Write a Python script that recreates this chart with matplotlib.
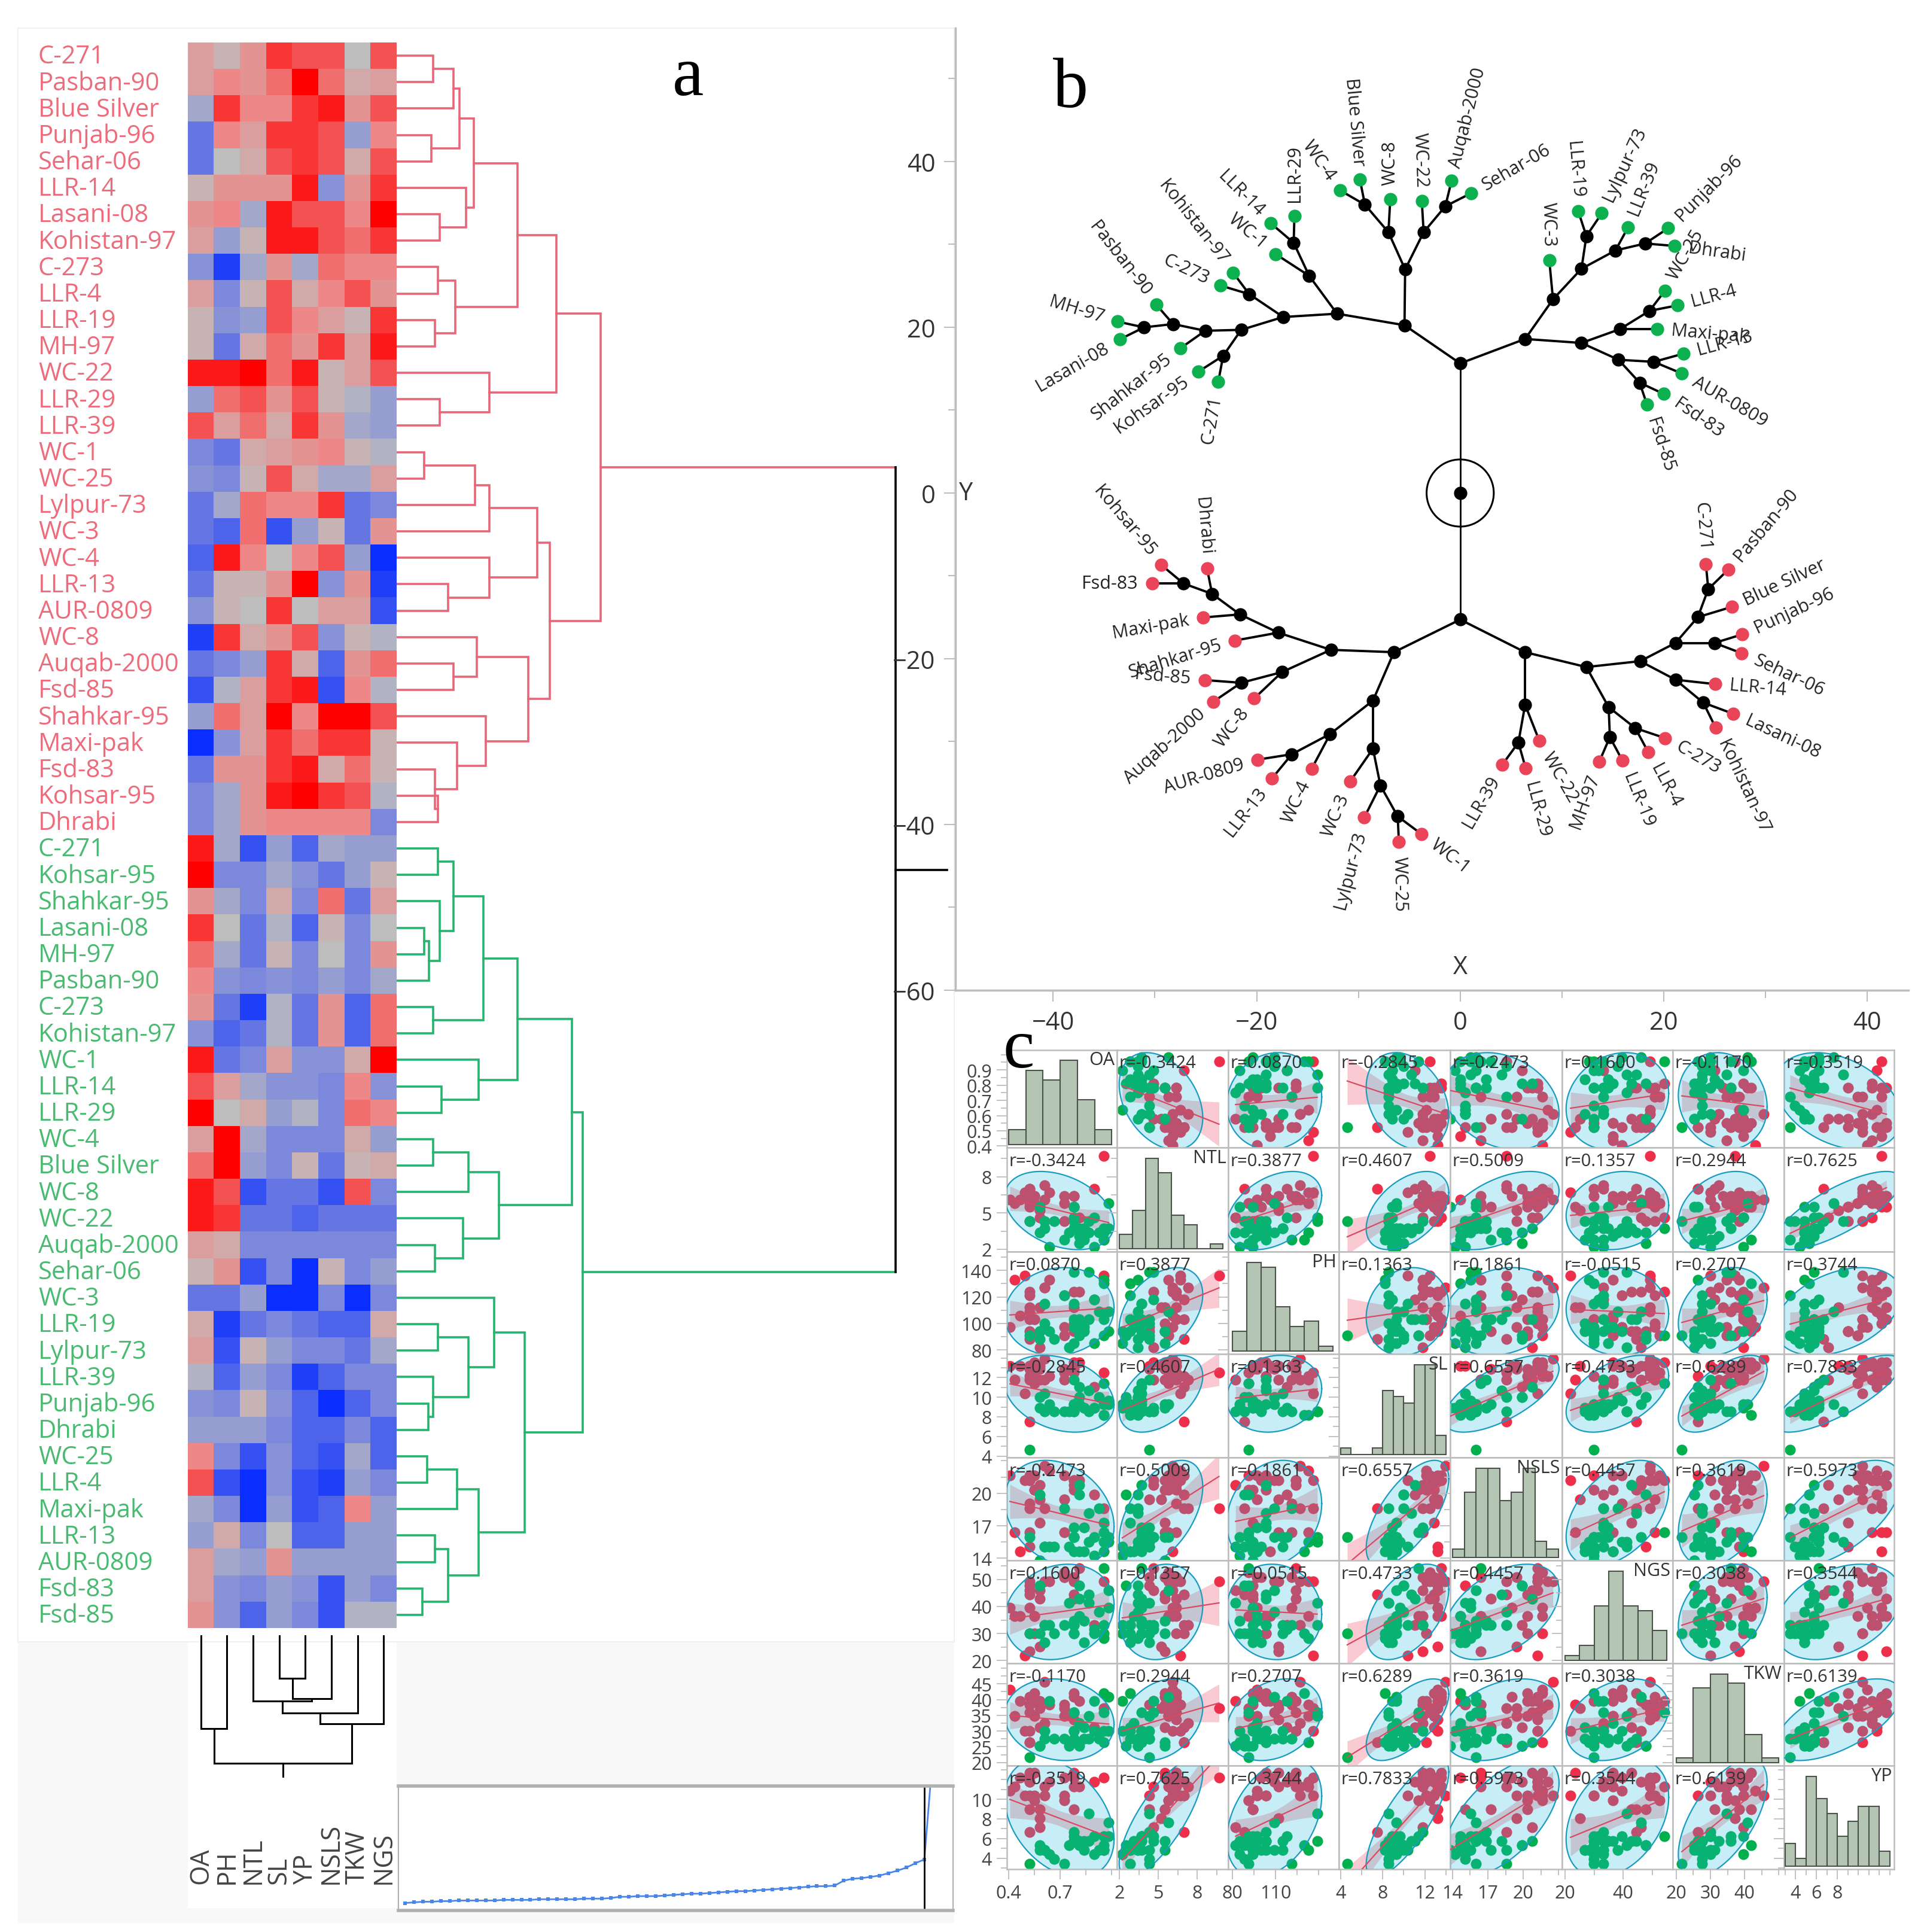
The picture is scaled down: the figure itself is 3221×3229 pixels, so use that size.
import numpy as np
import matplotlib
matplotlib.use("Agg")
import matplotlib.pyplot as plt
from matplotlib.colors import LinearSegmentedColormap
from matplotlib.patches import Ellipse, Rectangle
from matplotlib.ticker import FixedLocator, AutoMinorLocator, NullLocator

plt.rcParams["font.family"] = ["Open Sans", "DejaVu Sans"]

W, H = 3221, 3230

# --- panel a: heat map, cells are standardised scores ---
HEAT_COLS = ["OA", "PH", "NTL", "SL", "YP", "NSLS", "TKW", "NGS"]

RED_NAMES = ["C-271", "Pasban-90", "Blue Silver", "Punjab-96", "Sehar-06", "LLR-14", "Lasani-08",
             "Kohistan-97", "C-273", "LLR-4", "LLR-19", "MH-97", "WC-22", "LLR-29", "LLR-39", "WC-1",
             "WC-25", "Lylpur-73", "WC-3", "WC-4", "LLR-13", "AUR-0809", "WC-8", "Auqab-2000", "Fsd-85",
             "Shahkar-95", "Maxi-pak", "Fsd-83", "Kohsar-95", "Dhrabi"]
RED_SCORES = [
    [3, 1, 4, 8, 7, 7, 0, 7],
    [3, 5, 4, 6, 10, 6, 2, 3],
    [-2, 8, 5, 5, 8, 9, 4, 7],
    [-6, 5, 3, 8, 8, 7, -3, 5],
    [-6, 0, 2, 7, 8, 7, 2, 7],
    [1, 4, 4, 4, 9, -4, 4, 8],
    [4, 5, -2, 9, 7, 7, 5, 10],
    [3, -3, 1, 9, 9, 7, 6, 8],
    [-4, -9, -2, 4, -2, 6, 5, 5],
    [3, -5, 1, 7, 2, 5, 7, 4],
    [1, -4, -3, 7, 5, 3, 1, 8],
    [1, -6, 2, 6, 4, 8, 3, 9],
    [9, 9, 15, 6, 9, 1, 3, 7],
    [-3, 6, 7, 4, 7, 1, -1, -3],
    [7, 3, 6, 2, 8, 4, -2, -3],
    [-5, -6, 2, 3, 4, 5, 1, -1],
    [-4, -5, 1, 7, 2, -2, -2, 3],
    [-6, -2, 6, 5, 5, 8, -6, -5],
    [-6, -7, 6, -8, -3, 1, -6, 4],
    [-7, 9, 5, 0, 5, 7, -3, -10],
    [-6, 1, 1, 4, 10, -4, 4, -9],
    [-4, 1, 0, 8, 0, 3, 3, -8],
    [-9, 8, 2, 4, 7, -4, 1, -1],
    [-6, -5, -3, 8, 2, -7, 4, 6],
    [-8, -1, 3, 8, 9, -8, 5, -1],
    [-3, 6, 3, 10, 5, 10, 10, 7],
    [-10, -4, 3, 8, 6, 8, 8, 1],
    [-6, 4, 4, 8, 9, 2, 6, 1],
    [-5, -2, 4, 9, 10, 8, 7, -1],
    [-5, -2, 4, 5, 5, 5, 5, -5],
]

GREEN_NAMES = ["C-271", "Kohsar-95", "Shahkar-95", "Lasani-08", "MH-97", "Pasban-90", "C-273", "Kohistan-97",
               "WC-1", "LLR-14", "LLR-29", "WC-4", "Blue Silver", "WC-8", "WC-22", "Auqab-2000", "Sehar-06",
               "WC-3", "LLR-19", "Lylpur-73", "LLR-39", "Punjab-96", "Dhrabi", "WC-25", "LLR-4", "Maxi-pak",
               "LLR-13", "AUR-0809", "Fsd-83", "Fsd-85"]
GREEN_SCORES = [
    [9, -2, -8, -3, -7, -2, -3, -3],
    [10, -5, -5, -2, -4, -6, -3, 1],
    [4, -2, -5, 2, -5, 6, -6, 3],
    [8, 0, -6, -1, -7, 1, -5, 0],
    [6, -2, -6, 1, -5, 0, -5, 4],
    [5, -4, -5, -4, -5, -3, -5, -2],
    [4, -6, -9, -1, -6, 4, -7, 6],
    [-4, -7, -6, -1, -6, 4, -7, 6],
    [9, -6, -5, 3, -4, -4, 2, 10],
    [7, 3, -2, -4, -4, -5, 5, -4],
    [10, 0, 2, -3, -1, -5, 6, 5],
    [3, 10, -2, -5, -5, -5, 2, -3],
    [6, 10, -3, -5, 1, -6, 1, 2],
    [9, 7, -8, -6, -6, -8, 7, -5],
    [9, 8, -6, -6, -7, -6, -6, -6],
    [3, 2, -5, -5, -5, -5, -5, -5],
    [1, 4, -8, -5, -10, 1, -5, -3],
    [-6, -6, -3, -16, -10, -5, -10, -5],
    [2, -9, -6, -5, -6, -7, -7, 2],
    [3, -8, 1, -3, -5, -5, -6, -2],
    [-1, -7, -3, -5, -9, -7, -5, -5],
    [-4, -5, 1, -4, -7, -10, -7, -5],
    [-3, -3, -3, -5, -7, -7, -5, -7],
    [5, -5, -8, -4, -7, -8, -2, -7],
    [7, -8, -10, -4, -8, -9, -3, -5],
    [-2, -5, -10, -3, -8, -7, 5, -3],
    [-3, 2, -5, 0, -7, -7, -3, -3],
    [3, -2, -3, 4, -3, -3, -3, -3],
    [3, -4, -5, -3, -4, -8, -3, -5],
    [4, -4, -7, -3, -5, -8, -1, -1],
]

# dendrograms: (merge position, child, child), ints are leaves
RED_TREE = (1004,
            (930, (865, (792, (768, (758, (724, 0, 1), 2), (721, 3, 4)), (779, 5, (735, 6, 7))),
                   (761, (732, 8, 9), (727, 10, 11))),
             (818, 12, (735, 13, 14))),
            (919, (898, (818, (794, (709, 15, 16), 17), 18), (818, 19, (749, 20, 21))),
             (883, (797, 22, (758, 23, 24)), (812, 25, (764, 26, (727, 27, (732, 28, 29)))))))
GREEN_TREE = (974,
              (956, (865, (808, (758, (732, 30, 31), (735, 32, (717, (709, 33, 34), 35))), (724, 36, 37)),
                     (800, 38, (738, 39, 40))),
               (834, (783, (724, 41, 42), 43), (774, 44, (727, 45, 46)))),
              (877, (826, 47, (783, (732, 48, 49), (724, 50, (716, 51, 52)))),
               (800, (764, (714, 53, 54), 55), (749, (727, 56, 57), (706, 58, 59)))))
COL_TREE = (2948, (2890, 0, 1), (2882, (2864, (2844, 2, (2840, (2806, 3, 4), 5)), 6), 7))

SCREE = [0.06, 0.065, 0.07, 0.07, 0.075, 0.075, 0.08, 0.08, 0.08, 0.08, 0.08, 0.085, 0.085, 0.085, 0.085,
         0.09, 0.09, 0.09, 0.09, 0.09, 0.095, 0.095, 0.095, 0.10, 0.11, 0.11, 0.115, 0.115, 0.115, 0.12,
         0.125, 0.13, 0.135, 0.135, 0.14, 0.145, 0.15, 0.155, 0.155, 0.16, 0.165, 0.17, 0.175, 0.18, 0.185,
         0.19, 0.195, 0.195, 0.20, 0.24, 0.255, 0.26, 0.27, 0.28, 0.30, 0.32, 0.345, 0.38, 0.41, 1.3]

# --- panel b: constellation plot, inner nodes and leaves (label, x, y, parent, label angle) ---
UP_NODES = {"U": (0, 15.64, "root"), "L1": (-5.47, 20.25, "U"), "T": (-5.41, 26.98, "L1"),
            "A": (-7.05, 31.47, "T"), "B": (-3.59, 31.47, "T"), "A1": (-9.36, 34.79, "A"),
            "B1": (-1.46, 34.60, "B"), "L2": (-12.1, 21.64, "L1"), "L3": (-14.84, 26.21, "L2"),
            "L4": (-16.36, 30.19, "L3"), "L5": (-17.39, 21.24, "L2"), "L6": (-20.73, 24.0, "L5"),
            "L7": (-21.52, 19.69, "L5"), "L8": (-25.05, 19.58, "L7"), "L9": (-23.29, 16.56, "L7"),
            "L10": (-28.21, 20.39, "L8"), "L11": (-31.07, 19.99, "L10"), "R1": (6.38, 18.59, "U"),
            "R2": (9.12, 23.37, "R1"), "R3": (11.92, 27.06, "R2"), "R4": (12.4, 31.0, "R3"),
            "R5": (15.26, 29.27, "R3"), "R6": (18.18, 30.11, "R5"), "R7": (11.92, 18.11, "R1"),
            "R8": (15.69, 19.77, "R7"), "R9": (15.56, 16.08, "R7"), "R10": (18.6, 21.98, "R8"),
            "R11": (19.03, 15.83, "R9"), "R12": (17.63, 13.32, "R9")}
UP_LEAVES = [("WC-8", -6.87, 35.45, "A", 90), ("WC-4", -11.8, 36.52, "A1", 125), ("Blue Silver", -9.85, 37.81, "A1", 95),
             ("WC-22", -3.77, 35.23, "B", 92), ("Auqab-2000", -0.85, 37.66, "B1", 76), ("Sehar-06", 1.09, 36.19, "B1", 30),
             ("WC-1", -18.12, 28.82, "L3", 140), ("LLR-14", -18.6, 32.54, "L4", 135), ("LLR-29", -16.29, 33.43, "L4", 90),
             ("C-273", -23.53, 25.03, "L6", 155), ("Kohistan-97", -22.31, 26.58, "L6", 128),
             ("Kohsar-95", -25.72, 14.65, "L9", 215), ("C-271", -23.77, 13.43, "L9", 260),
             ("Shahkar-95", -27.48, 17.48, "L8", 218), ("Pasban-90", -29.85, 22.71, "L10", 128),
             ("MH-97", -33.68, 20.69, "L11", 163), ("Lasani-08", -33.44, 18.55, "L11", 210),
             ("WC-3", 8.76, 28.05, "R2", 91), ("LLR-19", 11.61, 33.98, "R4", 95), ("Lylpur-73", 13.92, 33.76, "R4", 65),
             ("LLR-39", 16.48, 32.03, "R5", 68), ("Punjab-96", 20.43, 31.95, "R6", 45), ("Dhrabi", 21.04, 29.82, "R6", -8),
             ("Maxi-pak", 19.33, 19.77, "R8", -5), ("WC-25", 20.12, 24.41, "R10", 60), ("LLR-4", 21.34, 22.64, "R10", 15),
             ("LLR-13", 21.95, 16.82, "R11", 15), ("AUR-0809", 21.77, 14.43, "R11", -30),
             ("Fsd-83", 20.0, 11.96, "R12", -35), ("Fsd-85", 18.36, 10.67, "R12", -72)]

DOWN_NODES = {"D": (0, -15.27, "root"), "D1": (-6.51, -19.21, "D"), "D2": (6.38, -19.21, "D"),
              "D3": (-12.71, -18.92, "D1"), "D4": (-8.57, -25.05, "D1"), "D5": (-17.88, -16.85, "D3"),
              "D6": (-17.51, -21.61, "D3"), "D7": (-21.64, -14.65, "D5"), "D8": (-24.38, -12.17, "D7"),
              "D9": (-27.18, -10.92, "D8"), "D10": (-21.52, -22.9, "D6"), "D11": (-12.77, -29.07, "D4"),
              "D12": (-8.57, -30.85, "D4"), "D13": (-16.54, -31.52, "D11"), "D14": (-7.84, -35.29, "D12"),
              "D15": (-6.14, -39.02, "D14"), "D16": (6.38, -25.55, "D2"), "D17": (12.4, -21.0, "D2"),
              "D18": (5.72, -30.11, "D16"), "D19": (14.59, -25.84, "D17"), "D20": (17.69, -20.29, "D17"),
              "D21": (14.71, -29.45, "D19"), "D22": (17.21, -28.37, "D19"), "D23": (21.16, -18.09, "D20"),
              "D24": (21.16, -22.53, "D20"), "D25": (23.35, -14.98, "D23"), "D26": (24.99, -18.09, "D23"),
              "D27": (24.38, -11.59, "D25"), "D28": (23.89, -25.3, "D24")}
DOWN_LEAVES = [("Shahkar-95", -22.13, -17.8, "D5", 197), ("Maxi-pak", -25.29, -15.02, "D7", 190),
               ("Dhrabi", -24.87, -9.1, "D8", 95), ("Kohsar-95", -29.37, -8.68, "D9", 130), ("Fsd-83", -30.28, -10.92, "D9", 180),
               ("WC-8", -20.25, -24.8, "D6", 232), ("Fsd-85", -25.11, -22.57, "D10", 175), ("Auqab-2000", -24.26, -25.18, "D10", 222),
               ("WC-4", -14.59, -33.26, "D11", 245), ("AUR-0809", -19.94, -32.18, "D13", 197), ("LLR-13", -18.48, -34.42, "D13", 232),
               ("WC-3", -10.82, -34.83, "D12", 247), ("Lylpur-73", -9.42, -39.14, "D14", 255), ("WC-25", -6.02, -42.13, "D15", -89),
               ("WC-1", -3.83, -41.13, "D15", -38), ("WC-22", 7.78, -29.9, "D16", -60), ("LLR-39", 4.13, -32.8, "D18", 240),
               ("LLR-29", 6.44, -33.22, "D18", -75), ("MH-97", 13.68, -32.39, "D21", 250), ("LLR-19", 15.93, -32.26, "D21", -68),
               ("LLR-4", 18.48, -31.27, "D22", -62), ("C-273", 20.12, -29.57, "D22", -30), ("Blue Silver", 26.69, -13.74, "D25", 25),
               ("C-271", 24.14, -8.56, "D27", 95), ("Pasban-90", 26.33, -9.26, "D27", 50), ("Punjab-96", 27.72, -17.06, "D26", 25),
               ("Sehar-06", 27.66, -19.33, "D26", -25), ("LLR-14", 25.05, -23.06, "D24", -5), ("Lasani-08", 26.81, -26.63, "D28", -25),
               ("Kohistan-97", 25.11, -28.33, "D28", -65)]

# --- panel c: scatter matrix ---
TRAITS = ["OA", "NTL", "PH", "SL", "NSLS", "NGS", "TKW", "YP"]
MEANS = [0.695, 5.2, 109, 10.35, 18.15, 38, 33.6, 8.07]
SDS = [0.13, 1.32, 13.5, 1.6, 2.0, 7.2, 5.3, 2.45]
# trait units for a score of 10 in the heat map
SCORE_UNITS = [0.2875, 2.99, 29.9, 3.57, 4.37, 16.1, 11.96, 4.6]
LIMITS = [(0.39, 1.03), (1.8, 10.4), (77, 154), (3.85, 14.4), (13.8, 23.3), (19, 57), (19, 51.5), (2.9, 13.4)]
R_VALUES = [
    [1, -0.3424, 0.0870, -0.2845, -0.2473, 0.1600, -0.1170, -0.3519],
    [-0.3424, 1, 0.3877, 0.4607, 0.5009, 0.1357, 0.2944, 0.7625],
    [0.0870, 0.3877, 1, 0.1363, 0.1861, -0.0515, 0.2707, 0.3744],
    [-0.2845, 0.4607, 0.1363, 1, 0.6557, 0.4733, 0.6289, 0.7833],
    [-0.2473, 0.5009, 0.1861, 0.6557, 1, 0.4457, 0.3619, 0.5973],
    [0.1600, 0.1357, -0.0515, 0.4733, 0.4457, 1, 0.3038, 0.3544],
    [-0.1170, 0.2944, 0.2707, 0.6289, 0.3619, 0.3038, 1, 0.6139],
    [-0.3519, 0.7625, 0.3744, 0.7833, 0.5973, 0.3544, 0.6139, 1],
]
HIST_EDGES = [[0.4, 0.5, 0.6, 0.7, 0.8, 0.9, 1.0],
              [2, 3, 4, 5, 6, 7, 8, 9, 10],
              [80, 90, 100, 110, 120, 130, 140, 150],
              [4, 5, 6, 7, 8, 9, 10, 11, 12, 13, 14],
              [14, 15, 16, 17, 18, 19, 20, 21, 22, 23],
              [20, 25, 30, 35, 40, 45, 50, 55],
              [20, 25, 30, 35, 40, 45, 50],
              [3, 4, 5, 6, 7, 8, 9, 10, 11, 12, 13]]
HIST_COUNTS = [[3, 15, 13, 17, 9, 3],
               [3, 8, 19, 16, 7, 5, 0, 1],
               [4, 18, 17, 9, 5, 6, 1],
               [1, 0, 0, 1, 10, 9, 8, 14, 14, 3],
               [1, 8, 11, 11, 7, 8, 11, 2, 1],
               [1, 3, 11, 18, 11, 10, 6],
               [1, 16, 19, 17, 6, 1],
               [3, 1, 12, 9, 7, 4, 6, 8, 8, 2]]
Y_TICKS = [[0.4, 0.5, 0.6, 0.7, 0.8, 0.9], [2, 5, 8], [80, 100, 120, 140], [4, 6, 8, 10, 12],
           [14, 17, 20], [20, 30, 40, 50], [20, 25, 30, 35, 40, 45], [4, 6, 8, 10]]
X_TICKS = [[0.4, 0.7], [2, 5, 8], [80, 110], [4, 8, 12], [14, 17, 20], [20, 40], [20, 30, 40], [4, 6, 8]]

RED_TXT, GREEN_TXT = "#EE6B7B", "#48BB70"
RED_LINE, GREEN_LINE = "#E8667A", "#25B46E"
TXT = "#333333"
GREY_AX = "#BDBDBD"


def px_axes(fig, x0, y0, x1, y1, **kw):
    """Axes placed by its pixel box, y counted from the top of the image."""
    return fig.add_axes([x0 / W, 1 - y1 / H, (x1 - x0) / W, (y1 - y0) / H], **kw)


def draw_tree(ax, node, pos, color, lw, vertical=False):
    """Draw a nested merge tree, returns (height, position) of the node."""
    if isinstance(node, int):
        return None, pos(node)
    h, a, b = node
    ha, pa = draw_tree(ax, a, pos, color, lw, vertical)
    hb, pb = draw_tree(ax, b, pos, color, lw, vertical)
    base = ax.get_xlim()[0] if not vertical else ax.get_ylim()[1]
    ha = base if ha is None else ha
    hb = base if hb is None else hb
    if vertical:
        ax.plot([pa, pa, pb, pb], [ha, h, h, hb], color=color, lw=lw, solid_joinstyle="miter")
    else:
        ax.plot([ha, h, h, hb], [pa, pa, pb, pb], color=color, lw=lw, solid_joinstyle="miter")
    return h, (pa + pb) / 2


def draw_panel_a(fig, all_scores):
    # grey JMP background behind the lower part
    fig.add_artist(Rectangle((30 / W, 1 - 3215 / H), 1565 / W, 470 / H, transform=fig.transFigure,
                             fc="#F8F8F8", ec="none", zorder=-5))
    fig.add_artist(Rectangle((314 / W, 1 - 3190 / H), 349 / W, 450 / H, transform=fig.transFigure,
                             fc="white", ec="none", zorder=-4))
    fig.add_artist(Rectangle((30 / W, 1 - 2745 / H), 1565 / W, 2697 / H, transform=fig.transFigure,
                             fc="none", ec="#F0F0F0", lw=1.5, zorder=-4))

    ax = px_axes(fig, 314, 72, 663, 2722)
    cmap = LinearSegmentedColormap.from_list(
        "jmp", ["#0A2EFF", "#7C88DC", "#BEBEBE", "#EE8A8A", "#FF0000"])
    ax.imshow(all_scores, cmap=cmap, vmin=-10, vmax=10, aspect="auto", interpolation="nearest")
    ax.axis("off")

    lab = px_axes(fig, 64, 72, 314, 2722)
    lab.set_xlim(0, 1)
    lab.set_ylim(60, 0)
    lab.axis("off")
    for i, name in enumerate(RED_NAMES + GREEN_NAMES):
        lab.text(0, i + 0.53, name, va="center", ha="left", fontsize=30,
                 color=RED_TXT if i < 30 else GREEN_TXT)

    den = px_axes(fig, 663, 72, 1597, 2722)
    den.set_xlim(663, 1597)
    den.set_ylim(60, 0)
    den.axis("off")
    pos = lambda i: i + 0.5
    hr, yr = draw_tree(den, RED_TREE, pos, RED_LINE, 2.6)
    hg, yg = draw_tree(den, GREEN_TREE, pos, GREEN_LINE, 2.6)
    den.plot([hr, 1497], [yr, yr], color=RED_LINE, lw=2.6)
    den.plot([hg, 1497], [yg, yg], color=GREEN_LINE, lw=2.6)
    den.plot([1497, 1497], [yr, yg], color="black", lw=2.6)
    den.plot([1497, 1583], [(yr + yg) / 2] * 2, color="black", lw=2.6)

    col = px_axes(fig, 314, 2734, 663, 2972)
    col.set_xlim(0, 8)
    col.set_ylim(2972, 2734)
    col.axis("off")
    h, x = draw_tree(col, COL_TREE, pos, "black", 2.2, vertical=True)
    col.plot([x, x], [h, 2972], color="black", lw=2.2)

    names = px_axes(fig, 314, 2972, 663, 3160)
    names.set_xlim(0, 8)
    names.set_ylim(0, 1)
    names.axis("off")
    for i, name in enumerate(HEAT_COLS):
        names.text(i + 0.5, 0.06, name, rotation=90, ha="center", va="bottom", fontsize=31, color="#444444")

    sc = px_axes(fig, 666, 2986, 1593, 3194)
    sc.set_xlim(-0.73, 61.2)
    sc.set_ylim(0, 1)
    sc.plot(range(len(SCREE)), SCREE, color="#4A86E8", lw=2, marker="s", ms=4.5, mew=0)
    sc.axvline(58, color="black", lw=2)
    sc.set_xticks([])
    sc.set_yticks([])
    for side, lw in [("top", 4), ("bottom", 4), ("left", 1.5), ("right", 1.5)]:
        sc.spines[side].set_color("#B0B0B0")
        sc.spines[side].set_linewidth(lw)


def draw_panel_b(fig):
    ax = px_axes(fig, 1597, 48, 3190, 1656)
    ax.set_xlim(-49.6, 44.05)
    ax.set_ylim(-60, 56.1)
    ax.patch.set_alpha(0)
    for side in ["top", "right"]:
        ax.spines[side].set_visible(False)
    for side in ["left", "bottom"]:
        ax.spines[side].set_color(GREY_AX)
        ax.spines[side].set_linewidth(2.5)
    ax.set_xticks([-40, -20, 0, 20, 40])
    ax.set_yticks([-60, -40, -20, 0, 20, 40])
    ax.xaxis.set_minor_locator(AutoMinorLocator(2))
    ax.yaxis.set_minor_locator(AutoMinorLocator(2))
    ax.tick_params(which="major", length=14, width=1.5, color=GREY_AX, labelsize=30, labelcolor=TXT, pad=10)
    ax.tick_params(which="minor", length=9, width=1.5, color=GREY_AX)
    ax.text(0, -57.2, "X", ha="center", va="center", fontsize=30, color=TXT)
    ax.text(-48.6, 0, "Y", ha="center", va="center", fontsize=30, color=TXT)

    ax.add_patch(Ellipse((0, 0), 6.6, 8.1, fc="none", ec="black", lw=2.2))
    ax.plot([0], [0], "o", color="black", ms=15, zorder=5)

    for nodes, leaves, dot in [(UP_NODES, UP_LEAVES, "#0CB04F"), (DOWN_NODES, DOWN_LEAVES, "#EA4458")]:
        coords = {"root": (0, 0)}
        for name, (x, y, _) in nodes.items():
            coords[name] = (x, y)
        for name, (x, y, parent) in nodes.items():
            px, py = coords[parent]
            thin = parent == "root"
            ax.plot([px, x], [py, y], color="black", lw=2 if thin else 2.8, zorder=2)
            ax.plot([x], [y], "o", color="black", ms=16, mew=0, zorder=4)
        for label, x, y, parent, angle in leaves:
            px, py = coords[parent]
            ax.plot([px, x], [py, y], color="black", lw=2.8, zorder=2)
            ax.plot([x], [y], "o", color=dot, ms=16, mew=0, zorder=4)
            t = np.radians(angle)
            right = np.cos(t) >= 0
            off = (17 * np.cos(t), 17 * np.sin(t))
            ax.annotate(label, (x, y), xytext=off, textcoords="offset points",
                        rotation=angle if right else angle - 180, rotation_mode="anchor",
                        ha="left" if right else "right", va="center", fontsize=22, color="#222222")


def draw_panel_c(fig, all_scores):
    # order the score columns like the scatter matrix and put them on the trait scales
    order = [HEAT_COLS.index(t) for t in TRAITS]
    values = np.zeros((60, 8))
    for k, c in enumerate(order):
        values[:, k] = MEANS[k] + all_scores[:, c] / 10 * SCORE_UNITS[k]

    xs = [1683, 1867, 2053, 2238, 2424, 2611, 2796, 2982, 3166]
    ys = [1756, 1919, 2093, 2264, 2437, 2609, 2781, 2952, 3125]
    t = np.linspace(0, 2 * np.pi, 200)
    c95 = 2.447

    for row in range(8):
        for col in range(8):
            ax = px_axes(fig, xs[col], ys[row], xs[col + 1], ys[row + 1])
            ax.set_xlim(*LIMITS[col])
            ax.set_ylim(*LIMITS[row])
            for s in ax.spines.values():
                s.set_color(GREY_AX)
                s.set_linewidth(1.8)
            ax.xaxis.set_major_locator(FixedLocator(X_TICKS[col]))
            ax.yaxis.set_major_locator(FixedLocator(Y_TICKS[row]))
            ax.xaxis.set_minor_locator(AutoMinorLocator(2))
            ax.yaxis.set_minor_locator(AutoMinorLocator(2))
            ax.tick_params(which="major", length=12, width=1.3, color=GREY_AX, labelsize=22, labelcolor="#444444", pad=6)
            ax.tick_params(which="minor", length=7, width=1.3, color=GREY_AX)
            ax.tick_params(axis="x", which="both", bottom=row == 7, labelbottom=row == 7)
            ax.tick_params(axis="y", which="both", left=col == 0, labelleft=col == 0)

            if row == col:
                hx = ax.twinx()
                hx.set_ylim(-max(HIST_COUNTS[col]) * 0.035, max(HIST_COUNTS[col]) * 1.12)
                hx.bar(HIST_EDGES[col][:-1], HIST_COUNTS[col], width=np.diff(HIST_EDGES[col]), align="edge",
                       color="#B4C5B4", edgecolor="#4A524A", linewidth=1.5)
                hx.set_yticks([])
                hx.yaxis.set_minor_locator(NullLocator())
                hx.tick_params(axis="y", which="both", right=False, left=False)
                for s in hx.spines.values():
                    s.set_visible(False)
                hx.text(0.98, 0.9, TRAITS[col], transform=hx.transAxes, ha="right", va="center",
                        fontsize=22, color="#333333")
                continue

            r = R_VALUES[row][col]
            mx, my = MEANS[col], MEANS[row]
            sx, sy = SDS[col], SDS[row]

            # confidence band and fit line
            dx = np.linspace(values[:, col].min(), values[:, col].max(), 50)
            fit = my + r * sy / sx * (dx - mx)
            se = sy * np.sqrt(1 - r ** 2) * np.sqrt(1 / 60 + (dx - mx) ** 2 / (60 * sx ** 2))
            ax.fill_between(dx, fit - 2.6 * se, fit + 2.6 * se, color="#F27C8E", alpha=0.4, lw=0, zorder=1)

            ax.scatter(values[:30, col], values[:30, row], s=170, color="#EE2F4B", lw=0, zorder=2)
            ax.scatter(values[30:, col], values[30:, row], s=170, color="#00B04F", lw=0, zorder=2)

            ex = mx + c95 * sx * np.cos(t)
            ey = my + c95 * sy * (r * np.cos(t) + np.sqrt(1 - r ** 2) * np.sin(t))
            ax.fill(ex, ey, color="#23B8DC", alpha=0.25, lw=0, zorder=3)
            ax.plot(ex, ey, color="#1A9CC0", lw=1.6, zorder=4)
            ax.plot(dx, fit, color="#D84A62", lw=1.6, zorder=4)

            ax.text(0.02, 0.87, f"r={r:.4f}", transform=ax.transAxes, ha="left", va="center",
                    fontsize=21, color="#333333", zorder=6)


fig = plt.figure(figsize=(W / 100, H / 100), dpi=100, facecolor="white")
all_scores = np.array(RED_SCORES + GREEN_SCORES, dtype=float)

draw_panel_a(fig, all_scores)
draw_panel_b(fig)
draw_panel_c(fig, all_scores)

for letter, x, y in [("a", 1150, 130), ("b", 1790, 150), ("c", 1703, 1755)]:
    fig.text(x / W, 1 - y / H, letter, fontsize=85, family="Liberation Serif", ha="center", va="center",
             color="black", zorder=20)

fig.savefig("out.png", dpi=100)
